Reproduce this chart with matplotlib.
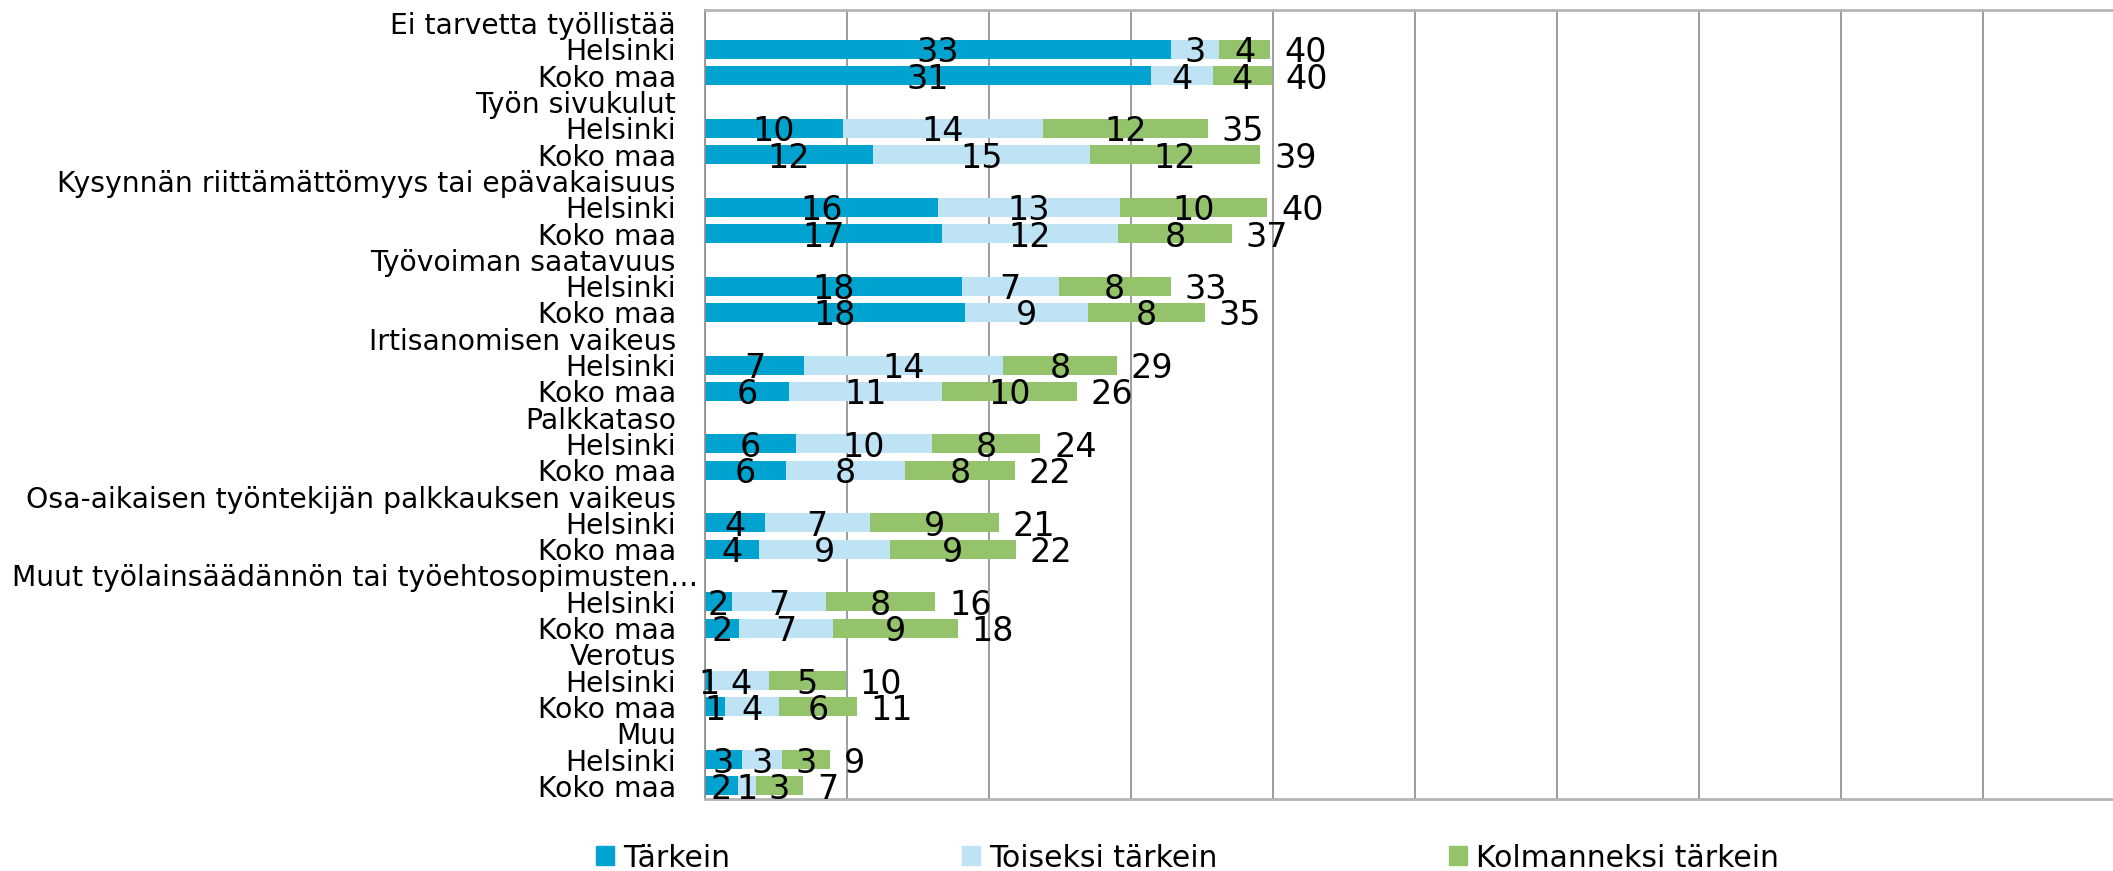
import numpy as np
import matplotlib.pyplot as plt
from matplotlib.patches import Patch
from matplotlib.transforms import ScaledTranslation

plt.rcParams['font.family'] = ['DejaVu Sans']

groups = ["Ei tarvetta työllistää", "Työn sivukulut",
          "Kysynnän riittämättömyys tai epävakaisuus", "Työvoiman saatavuus",
          "Irtisanomisen vaikeus", "Palkkataso",
          "Osa-aikaisen työntekijän palkkauksen vaikeus",
          "Muut työlainsäädännön tai työehtosopimusten…", "Verotus", "Muu"]
areas = ["Helsinki", "Koko maa"]
series = ["Tärkein", "Toiseksi tärkein", "Kolmanneksi tärkein"]

# shares (%)
tarkein_hki = [32.8, 9.7, 16.4, 18.1, 7.0, 6.4, 4.2, 1.9, 0.5, 2.6]
toiseksi_hki = [3.4, 14.1, 12.8, 6.8, 14.0, 9.6, 7.4, 6.6, 4.0, 2.8]
kolmanneksi_hki = [3.6, 11.6, 10.4, 7.9, 8.0, 7.6, 9.1, 7.7, 5.4, 3.4]
tarkein_km = [31.4, 11.8, 16.7, 18.3, 5.9, 5.7, 3.8, 2.4, 1.4, 2.3]
toiseksi_km = [4.4, 15.3, 12.4, 8.7, 10.8, 8.4, 9.2, 6.6, 3.8, 1.3]
kolmanneksi_km = [4.1, 12.0, 8.0, 8.2, 9.5, 7.7, 8.9, 8.8, 5.5, 3.3]

colors = ['#00A3CF', '#BEE3F5', '#95C36B']
fs = 20.3
num_fs = 24
legend_fs = 21.5

hki = np.array([tarkein_hki, toiseksi_hki, kolmanneksi_hki])
km = np.array([tarkein_km, toiseksi_km, kolmanneksi_km])

# rows: header, Helsinki, Koko maa for every group
labels = []
for g in groups:
    labels += [g] + areas
n = len(labels)
y_hki = np.arange(len(groups)) * 3 + 1
y_km = y_hki + 1

W, H = 2113, 871
fig = plt.figure(figsize=(W / 100, H / 100), dpi=100)
ax = fig.add_axes([705 / W, 1 - 799 / H, (2125 - 705) / W, (799 - 10) / H])

def r(v):
    return str(int(v + 0.5))

for ys, data in [(y_hki, hki), (y_km, km)]:
    left = np.zeros(len(groups))
    for k in range(3):
        ax.barh(ys, data[k], left=left, height=0.72, color=colors[k], zorder=2)
        for y, l, v in zip(ys, left, data[k]):
            ax.text(l + v / 2, y, r(v), ha='center', va='center_baseline',
                    fontsize=num_fs, zorder=3)
        left = left + data[k]
    for y, t in zip(ys, left):
        ax.annotate(r(t), (t, y), xytext=(10, 0), textcoords='offset points',
                    ha='left', va='center_baseline', fontsize=num_fs)

ax.set_xlim(0, 100)
ax.set_ylim(n - 0.5, -0.5)
ax.set_yticks(np.arange(n))
ax.set_yticklabels(labels, fontsize=fs)
ax.set_xticks(np.arange(0, 101, 10))
ax.set_xticklabels([])
ax.tick_params(length=0, pad=21)
# the cut-off label runs further right in the original
for t in ax.get_yticklabels():
    if t.get_text().endswith('…'):
        t.set_transform(t.get_transform() + ScaledTranslation(0.22, 0, fig.dpi_scale_trans))
ax.grid(axis='x', color='#8c8c8c', linewidth=1.2, zorder=0)
ax.spines['left'].set_color('#8c8c8c')
ax.spines['left'].set_linewidth(1.2)
for s in ['top', 'bottom']:
    ax.spines[s].set_color('#b4b4b4')
    ax.spines[s].set_linewidth(2.0)
ax.spines['right'].set_visible(False)

# legend entries placed one by one, like the spreadsheet legend
legend_x = [596, 962, 1449]
for name, c, x in zip(series, colors, legend_x):
    fig.legend([Patch(color=c)], [name], loc='center left',
               bbox_to_anchor=(x / W, 1 - 858 / H), frameon=False,
               fontsize=legend_fs, handlelength=0.6, handleheight=0.6,
               handletextpad=0.3, borderpad=0, borderaxespad=0)

fig.savefig('out.png', dpi=100)
